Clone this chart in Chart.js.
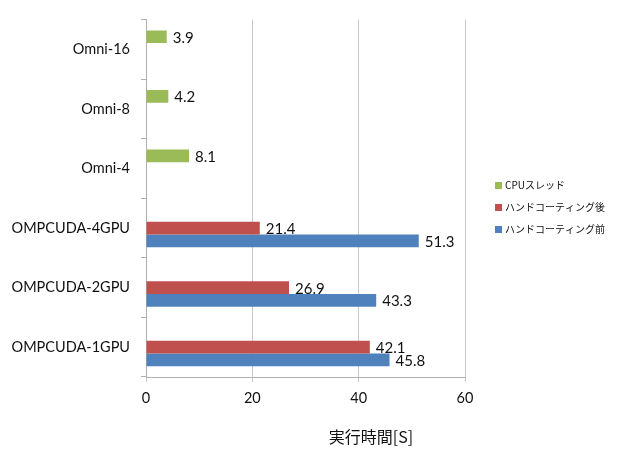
<!DOCTYPE html>
<html>
<head>
<meta charset="utf-8">
<script src="https://cdn.jsdelivr.net/npm/chart.js@4/dist/chart.umd.min.js"></script>
<style>
  html, body { margin: 0; padding: 0; background: #fff; }
  #wrap { width: 619px; height: 449px; position: relative; }
</style>
</head>
<body>
<div id="wrap"><canvas id="chart"></canvas></div>
<script>
const categories = ["Omni-16", "Omni-8", "Omni-4", "OMPCUDA-4GPU", "OMPCUDA-2GPU", "OMPCUDA-1GPU"];
const cpuThreads = [3.9, 4.2, 8.1, null, null, null];
const afterHand = [null, null, null, 21.4, 26.9, 42.1];
const beforeHand = [null, null, null, 51.3, 43.3, 45.8];
const seriesNames = ["CPUスレッド", "ハンドコーティング後", "ハンドコーティング前"];
const seriesColors = ["#9BBB59", "#C0504D", "#4F81BD"];
const xTicks = [0, 20, 40, 60];
const xTitle = "実行時間[S]";

const gridColor = "#C8C8C8";
const axisColor = "#B0B0B0";
const latinFont = "Lato, 'Liberation Sans', sans-serif";
const cjkFont = "'Noto Sans CJK JP', 'Noto Sans', sans-serif";

// value labels at the end of each bar
const barLabels = {
  id: "barLabels",
  afterDatasetsDraw(chart) {
    const ctx = chart.ctx;
    ctx.save();
    ctx.font = "15px " + latinFont;
    ctx.fillStyle = "#111";
    ctx.textAlign = "left";
    ctx.textBaseline = "middle";
    chart.data.datasets.forEach((ds, i) => {
      chart.getDatasetMeta(i).data.forEach((bar, j) => {
        const v = ds.data[j];
        if (v === null || v === undefined) return;
        ctx.fillText(v.toFixed(1), bar.x + 6, bar.y + 1);
      });
    });
    ctx.restore();
  }
};

// legend on the right and the axis title, placed like the original
const sideLegend = {
  id: "sideLegend",
  afterDraw(chart) {
    const ctx = chart.ctx;
    const area = chart.chartArea;
    ctx.save();
    ctx.textAlign = "left";
    ctx.textBaseline = "middle";
    ctx.font = "10px " + cjkFont;
    const x0 = area.right + 30;
    const y0 = 185;
    chart.data.datasets.forEach((ds, i) => {
      const y = y0 + i * 22;
      ctx.fillStyle = ds.backgroundColor;
      ctx.fillRect(x0, y - 3, 7, 7);
      ctx.fillStyle = "#111";
      ctx.fillText(ds.label, x0 + 10, y);
    });
    ctx.font = "16px " + cjkFont;
    ctx.textAlign = "center";
    ctx.fillText(xTitle, area.left + (area.right - area.left) * 0.705, 437);
    ctx.restore();
  }
};

new Chart(document.getElementById("chart"), {
  type: "bar",
  plugins: [barLabels, sideLegend],
  data: {
    labels: categories,
    datasets: [
      { label: seriesNames[0], data: cpuThreads, backgroundColor: seriesColors[0] },
      { label: seriesNames[1], data: afterHand, backgroundColor: seriesColors[1] },
      { label: seriesNames[2], data: beforeHand, backgroundColor: seriesColors[2] },
    ],
  },
  options: {
    indexAxis: "y",
    responsive: true,
    maintainAspectRatio: false,
    animation: false,
    categoryPercentage: 0.64,
    barPercentage: 1.0,
    layout: { padding: { left: 0, top: 10, right: 154, bottom: 0 } },
    plugins: {
      legend: { display: false },
      tooltip: { enabled: false },
    },
    scales: {
      x: {
        min: 0,
        max: 60,
        afterBuildTicks: (scale) => { scale.ticks = xTicks.map((v) => ({ value: v })); },
        afterFit: (scale) => { scale.height = 72; },
        grid: { color: gridColor, tickLength: 5, drawTicks: true },
        border: { color: axisColor },
        ticks: { color: "#111", padding: 8, font: { family: latinFont, size: 14.5 } },
      },
      y: {
        afterFit: (scale) => { scale.width = 146; },
        grid: { drawOnChartArea: false, tickLength: 5, color: axisColor, offset: true },
        border: { color: axisColor },
        ticks: { color: "#111", padding: 11, font: { family: latinFont, size: 14.5 } },
      },
    },
  },
});
</script>
</body>
</html>
